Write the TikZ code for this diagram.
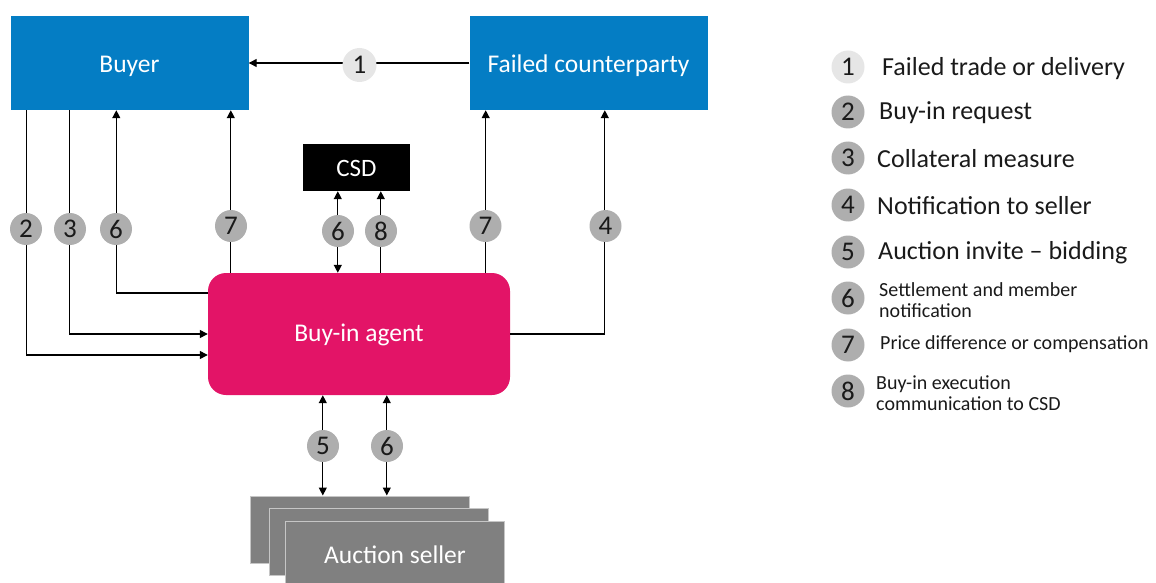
\documentclass[tikz,border=0pt]{standalone}
\usepackage{fontspec}
\setmainfont{Carlito}
\usetikzlibrary{arrows.meta}
\definecolor{boxblue}{HTML}{047DC4}
\definecolor{agentpink}{HTML}{E31467}
\definecolor{sellergray}{HTML}{808080}
\definecolor{numgray}{HTML}{AEAEAE}
\definecolor{numlight}{HTML}{E6E6E6}
\definecolor{txt}{HTML}{1A1A1A}
\tikzset{
  bluebox/.style={fill=boxblue, text=white, minimum width=238pt, minimum height=94pt, inner sep=0pt, text height=20pt, text depth=0pt, font=\fontsize{25.5}{30}\selectfont},
  csdbox/.style={fill=black, text=white, minimum width=107pt, minimum height=47pt, inner sep=0pt, text height=17pt, text depth=0pt, font=\fontsize{25}{28}\selectfont},
  agentbox/.style={fill=agentpink, text=white, rounded corners=18pt, minimum width=302pt, minimum height=122pt, inner sep=0pt, text height=15.5pt, text depth=0pt, font=\fontsize{25.5}{30}\selectfont},
  sellerbox/.style={fill=sellergray, draw=gray!45, line width=1pt, text=white, minimum width=219pt, minimum height=67pt, inner sep=0pt, text height=16.6pt, text depth=0pt, font=\fontsize{25.5}{30}\selectfont},
  num/.style={circle, fill=numgray, text=txt, minimum size=32pt, inner sep=0pt, font=\fontsize{27}{28}\selectfont},
  numone/.style={num, fill=numlight, minimum size=34pt},
  legnum/.style={circle, fill=numgray, text=txt, minimum size=33pt, inner sep=0pt, font=\fontsize{27}{28}\selectfont},
  legbig/.style={anchor=west, text=txt, inner sep=0pt, font=\fontsize{26}{30}\selectfont},
  legsmall/.style={anchor=west, text=txt, inner sep=0pt, align=left, font=\fontsize{20}{21}\selectfont},
  conn/.style={draw=black, line width=1.3pt},
  arr/.style={conn, -{Triangle[length=8pt,width=8pt]}},
  dbl/.style={conn, {Triangle[length=8pt,width=8pt]}-{Triangle[length=8pt,width=8pt]}}
}
\begin{document}
\begin{tikzpicture}[x=1pt,y=-1pt]
\useasboundingbox (0,0) rectangle (1156,583);
% main boxes
\node[bluebox] (buyer) at (129.5,63) {Buyer};
\node[bluebox] (fcp) at (588.5,63) {Failed counterparty};
\node[csdbox] (csd) at (356.5,167.5) {CSD};
\node[agentbox] (agent) at (359,334) {Buy-in agent};
\node[sellerbox] (s1) at (360,529.5) {};
\node[sellerbox] (s2) at (379,542) {};
\node[sellerbox] (s3) at (395,555) {Auction seller};
% connectors
\draw[arr] (fcp.west) -- (buyer.east);
\draw[arr] ([xshift=16pt]buyer.south west) |- ([yshift=-21pt]agent.west);
\draw[arr] ([xshift=59pt]buyer.south west) |- (agent.west);
\draw[arr] ([yshift=41pt]agent.west) -| ([xshift=106pt]buyer.south west);
\draw[arr] ([xshift=23pt]agent.north west) -- ([xshift=23pt]agent.north west |- buyer.south);
\draw[dbl] ([xshift=35pt]csd.south west) -- ([xshift=35pt]csd.south west |- agent.north);
\draw[arr] ([xshift=78pt]csd.south west |- agent.north) -- ([xshift=78pt]csd.south west);
\draw[arr] ([xshift=-24.5pt]agent.north east) -- ([xshift=-24.5pt]agent.north east |- fcp.south);
\draw[arr] (agent.east) -| ([xshift=135.5pt]fcp.south west);
\draw[dbl] ([xshift=115pt]agent.south west) -- ([xshift=115pt]agent.south west |- s1.north);
\draw[dbl] ([xshift=179pt]agent.south west) -- ([xshift=179pt]agent.south west |- s1.north);
% number markers
\node[numone] (c1) at (359.5,65) {1};
\node[num] (c2) at (26,229) {2};
\node[num] (c3) at (70,229) {3};
\node[num] (c6a) at (116,229) {6};
\node[num] (c7a) at (231,226) {7};
\node[num] (c6b) at (338,231) {6};
\node[num] (c8) at (381,231) {8};
\node[num] (c7b) at (485.5,226) {7};
\node[num] (c4) at (605.5,226) {4};
\node[num] (c5) at (323,446) {5};
\node[num] (c6c) at (387,446) {6};
% legend
\node[legnum, fill=numlight] (l1) at (848,67) {1};
\node[legnum] (l2) at (848,112) {2};
\node[legnum] (l3) at (848,158) {3};
\node[legnum] (l4) at (848,205) {4};
\node[legnum] (l5) at (848,252) {5};
\node[legnum] (l6) at (848,298) {6};
\node[legnum] (l7) at (848,345) {7};
\node[legnum] (l8) at (848,391) {8};
\node[legbig] (t1) at (882,69) {Failed trade or delivery};
\node[legbig] (t2) at (879,113) {Buy-in request};
\node[legbig] (t3) at (877,159) {Collateral measure};
\node[legbig] (t4) at (877,206) {Notification to seller};
\node[legbig] (t5) at (878,253) {Auction invite – bidding};
\node[legsmall] (t6) at (879,300) {Settlement and member\\notification};
\node[legsmall] (t7) at (880,344) {Price difference or compensation};
\node[legsmall] (t8) at (876,393) {Buy-in execution\\communication to CSD};
\end{tikzpicture}
\end{document}
